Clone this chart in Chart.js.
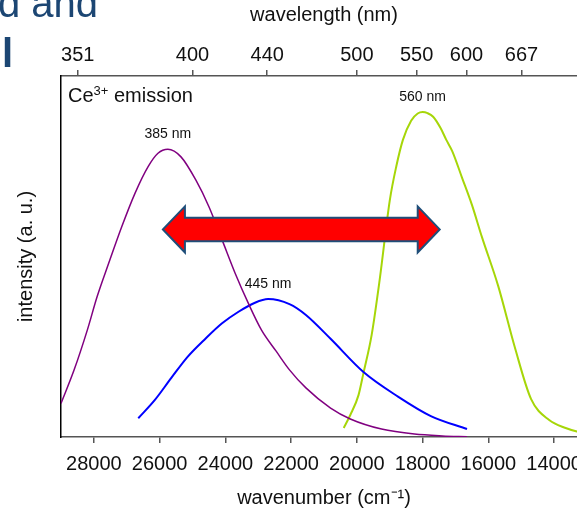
<!DOCTYPE html>
<html lang="en">
  <head>
    <meta charset="UTF-8" />
    <title>Ce3+ emission spectra</title>
    <script src="https://cdn.jsdelivr.net/npm/chart.js@4.4.1/dist/chart.umd.min.js"></script>
    <style>
      html,
      body {
        margin: 0;
        padding: 0;
        background: #ffffff;
        width: 577px;
        height: 512px;
        overflow: hidden;
      }

      /* plot runs a little past the right edge, like the cropped slide */
      .frame {
        position: relative;
        width: 620px;
        height: 512px;
      }

      .slide-title {
        position: absolute;
        left: -2px;
        top: -22px;
        font: 40px/50px "Liberation Sans", Arial, sans-serif;
        color: #1c4673;
        white-space: pre;
      }

      .slide-title b {
        margin-left: 4px;
      }

      .series-note {
        position: absolute;
        left: 68px;
        top: 83px;
        font: 20px/24px "Liberation Sans", Arial, sans-serif;
        color: #111;
      }

      .series-note span {
        font-size: 13px;
        position: relative;
        top: -7px;
      }
    </style>
  </head>
  <body>
    <div class="frame">
      <canvas id="emission"></canvas>
      <div class="slide-title">d and<br /><b>l</b></div>
      <div class="series-note">Ce<span>3+</span> emission</div>
    </div>

    <script>
      // axis ticks
      const wavenumberTicks = [28000, 26000, 24000, 22000, 20000, 18000, 16000, 14000];
      const wavelengthTicks = [351, 400, 440, 500, 550, 600, 667];

      // spectra (wavenumber in cm-1, intensity in a.u.)
      const seriesNames = ["385 nm", "445 nm", "560 nm"];

      const violetWn = [29000, 28600, 28200, 27900, 27550, 27150, 26750, 26350, 26050, 25750, 25350, 24900, 24500, 24100, 23700, 23300, 22900, 22450, 22050, 21550, 20800, 20200, 19250, 18250, 17400, 16650];
      const violetI = [0.093, 0.186, 0.296, 0.389, 0.481, 0.583, 0.675, 0.749, 0.786, 0.797, 0.776, 0.712, 0.638, 0.546, 0.453, 0.37, 0.296, 0.237, 0.186, 0.136, 0.08, 0.05, 0.022, 0.008, 0.003, 0.001];

      const blueWn = [26650, 26150, 25650, 25150, 24600, 24100, 23600, 23100, 22700, 22050, 21550, 20800, 19800, 18750, 17750, 16650];
      const blueI = [0.052, 0.102, 0.163, 0.222, 0.273, 0.315, 0.347, 0.372, 0.382, 0.368, 0.338, 0.272, 0.18, 0.112, 0.058, 0.022];

      const greenWn = [20400, 20200, 19950, 19800, 19550, 19300, 19000, 18800, 18600, 18350, 18150, 18000, 17850, 17680, 17450, 17280, 17100, 16800, 16500, 16200, 15700, 15200, 14700, 14150, 13650, 13250, 12700];
      const greenI = [0.025, 0.061, 0.116, 0.177, 0.283, 0.44, 0.655, 0.75, 0.823, 0.876, 0.896, 0.9, 0.897, 0.887, 0.855, 0.823, 0.792, 0.718, 0.643, 0.555, 0.418, 0.25, 0.105, 0.047, 0.025, 0.014, 0.008];

      // double arrow between the two emission bands
      const arrowFrom = 25900;
      const arrowTo = 17480;
      const arrowLevel = 0.575;

      const fontFamily = '"Liberation Sans", Arial, sans-serif';

      function points(xs, ys) {
        return xs.map((x, i) => ({ x: x, y: ys[i] }));
      }

      const overlay = {
        id: "overlay",
        afterDatasetsDraw(chart) {
          const ctx = chart.ctx;
          const xs = chart.scales.x;
          const ys = chart.scales.y;
          ctx.save();

          // arrow
          const x1 = xs.getPixelForValue(arrowFrom);
          const x2 = xs.getPixelForValue(arrowTo);
          const yc = ys.getPixelForValue(arrowLevel);
          const head = 22;
          const headHalf = 23;
          const shaft = 11.7;
          ctx.beginPath();
          ctx.moveTo(x1, yc);
          ctx.lineTo(x1 + head, yc - headHalf);
          ctx.lineTo(x1 + head, yc - shaft);
          ctx.lineTo(x2 - head, yc - shaft);
          ctx.lineTo(x2 - head, yc - headHalf);
          ctx.lineTo(x2, yc);
          ctx.lineTo(x2 - head, yc + headHalf);
          ctx.lineTo(x2 - head, yc + shaft);
          ctx.lineTo(x1 + head, yc + shaft);
          ctx.lineTo(x1 + head, yc + headHalf);
          ctx.closePath();
          ctx.fillStyle = "#ff0000";
          ctx.fill();
          ctx.lineWidth = 2;
          ctx.lineJoin = "miter";
          ctx.strokeStyle = "#1f4e79";
          ctx.stroke();

          // peak labels above each maximum
          ctx.font = "14px " + fontFamily;
          ctx.fillStyle = "#111";
          ctx.textAlign = "center";
          ctx.textBaseline = "middle";
          chart.data.datasets.forEach((ds) => {
            let top = ds.data[0];
            ds.data.forEach((p) => {
              if (p.y > top.y) top = p;
            });
            ctx.fillText(ds.label, xs.getPixelForValue(top.x), ys.getPixelForValue(top.y) - 15);
          });
          ctx.restore();
        },
      };

      new Chart(document.getElementById("emission"), {
        type: "line",
        data: {
          datasets: [
            {
              label: seriesNames[0],
              data: points(violetWn, violetI),
              borderColor: "#800080",
              borderWidth: 1.5,
            },
            {
              label: seriesNames[1],
              data: points(blueWn, blueI),
              borderColor: "#0000ff",
              borderWidth: 2,
            },
            {
              label: seriesNames[2],
              data: points(greenWn, greenI),
              borderColor: "#a6d608",
              borderWidth: 2,
            },
          ],
        },
        options: {
          responsive: true,
          maintainAspectRatio: false,
          animation: false,
          layout: { padding: { left: 0, right: 33, top: 0, bottom: 0 } },
          elements: {
            point: { radius: 0 },
            line: { cubicInterpolationMode: "monotone", fill: false },
          },
          plugins: {
            legend: { display: false },
            tooltip: { enabled: false },
          },
          scales: {
            x: {
              type: "linear",
              position: "bottom",
              reverse: true,
              min: 13000,
              max: 29000,
              afterBuildTicks: (s) => {
                s.ticks = wavenumberTicks.map((v) => ({ value: v }));
              },
              afterFit: (s) => {
                s.height = 75;
              },
              ticks: {
                color: "#111",
                font: { family: fontFamily, size: 20 },
                padding: 9,
                autoSkip: false,
                maxRotation: 0,
                callback: (v) => String(v),
              },
              grid: { drawOnChartArea: false, tickLength: 6, color: "#555", lineWidth: 1.5 },
              border: { color: "#555", width: 1.5 },
              title: {
                display: true,
                text: "wavenumber (cm⁻¹)",
                color: "#111",
                font: { family: fontFamily, size: 20 },
                padding: { top: 0, bottom: 2 },
              },
            },
            x2: {
              type: "linear",
              position: "top",
              reverse: true,
              min: 13000,
              max: 29000,
              afterBuildTicks: (s) => {
                s.ticks = wavelengthTicks.map((nm) => ({ value: 1e7 / nm }));
              },
              afterFit: (s) => {
                s.height = 76;
              },
              ticks: {
                color: "#111",
                font: { family: fontFamily, size: 20 },
                padding: 3,
                autoSkip: false,
                maxRotation: 0,
                callback: (v, i) => String(wavelengthTicks[i]),
              },
              grid: { drawOnChartArea: false, tickLength: 6, color: "#555", lineWidth: 1.5 },
              border: { color: "#555", width: 1.5 },
              title: {
                display: true,
                text: "wavelength (nm)",
                color: "#111",
                font: { family: fontFamily, size: 20 },
                padding: { top: 3, bottom: 0 },
              },
            },
            y: {
              min: 0,
              max: 1,
              afterFit: (s) => {
                s.width = 61;
              },
              ticks: { display: false },
              grid: { drawOnChartArea: false, drawTicks: false },
              border: { color: "#000", width: 1.5 },
              title: {
                display: true,
                text: "intensity (a. u.)",
                color: "#111",
                font: { family: fontFamily, size: 20 },
                padding: { top: 14, bottom: 0 },
              },
            },
          },
        },
        plugins: [overlay],
      });
    </script>
  </body>
</html>
